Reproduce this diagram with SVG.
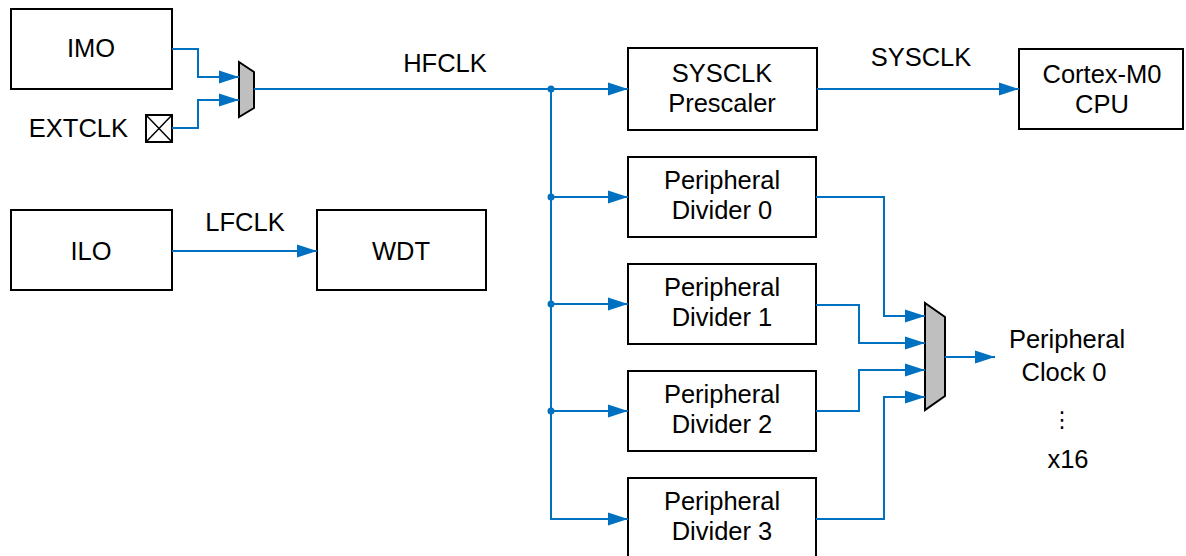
<svg xmlns="http://www.w3.org/2000/svg" width="1186" height="556" viewBox="0 0 1186 556">
<style>
.box{fill:#fff;stroke:#000;stroke-width:2}
.mux{fill:#BFBFBF;stroke:#000;stroke-width:2;stroke-linejoin:miter}
.w{fill:none;stroke:#0070C0;stroke-width:2}
.a{marker-end:url(#arr)}
text{font-family:"Liberation Sans",Arial,Helvetica,sans-serif;font-size:25.5px;fill:#000;text-anchor:middle}
</style>
<defs>
<marker id="arr" markerUnits="userSpaceOnUse" markerWidth="21" markerHeight="14" refX="20" refY="7" orient="auto">
<path d="M0,0.5 L20,7 L0,13.5 z" fill="#0070C0"/>
</marker>
</defs>
<g id="IMO"><rect class="box" x="11" y="9" width="161" height="80"/><text x="91" y="57">IMO</text></g>
<g id="EXTCLK"><rect x="146" y="115" width="26" height="27" fill="#fff" stroke="#000" stroke-width="2"/><path d="M146,115 L172,142 M172,115 L146,142" stroke="#000" stroke-width="1.5"/><text x="128" y="137" style="text-anchor:end">EXTCLK</text></g>
<g id="mux1"><polygon class="mux" points="239,62 254,72 254,108 239,117"/></g>
<g id="ILO"><rect class="box" x="11" y="210" width="161" height="80"/><text x="91" y="260">ILO</text></g>
<g id="WDT"><rect class="box" x="317" y="210" width="169" height="80"/><text x="401" y="260">WDT</text></g>
<g id="prescaler"><rect class="box" x="628" y="48" width="189" height="82"/><text x="722" y="82">SYSCLK</text><text x="722" y="112">Prescaler</text></g>
<g id="cpu"><rect class="box" x="1019" y="49" width="164" height="80"/><text x="1102" y="83">Cortex-M0</text><text x="1102" y="113">CPU</text></g>
<g id="div0"><rect class="box" x="628" y="157" width="188" height="80"/><text x="722" y="189">Peripheral</text><text x="722" y="219">Divider 0</text></g>
<g id="div1"><rect class="box" x="628" y="264" width="188" height="80"/><text x="722" y="296">Peripheral</text><text x="722" y="326">Divider 1</text></g>
<g id="div2"><rect class="box" x="628" y="371" width="188" height="80"/><text x="722" y="403">Peripheral</text><text x="722" y="433">Divider 2</text></g>
<g id="div3"><rect class="box" x="628" y="478" width="188" height="82"/><text x="722" y="510">Peripheral</text><text x="722" y="540">Divider 3</text></g>
<g id="mux2"><polygon class="mux" points="925,303 945,317 945,396 925,410"/></g>
<g id="out"><text x="1067" y="348">Peripheral</text><text x="1064" y="381">Clock 0</text><text x="1062" y="427" style="font-family:'DejaVu Sans',sans-serif;font-size:22px">⋮</text><text x="1068" y="468">x16</text></g>
<g id="connectors">
<path class="w a" d="M172,49 H198 V77 H239"/>
<path class="w a" d="M172,128 H198 V100 H239"/>
<path class="w a" d="M254,89 H628"/>
<path class="w a" d="M551,89 V519 H628"/>
<path class="w a" d="M551,197 H628"/>
<path class="w a" d="M551,304 H628"/>
<path class="w a" d="M551,411 H628"/>
<path class="w a" d="M817,89 H1019"/>
<path class="w a" d="M172,251 H317"/>
<path class="w a" d="M816,197 H884 V316 H925"/>
<path class="w a" d="M816,305 H859 V343 H925"/>
<path class="w a" d="M816,411 H859 V370 H925"/>
<path class="w a" d="M816,519 H884 V397 H925"/>
<path class="w a" d="M945,357 H995"/>
<g fill="#0070C0"><circle cx="551" cy="89" r="3.5"/><circle cx="551" cy="197" r="3.5"/><circle cx="551" cy="304" r="3.5"/><circle cx="551" cy="411" r="3.5"/></g>
<text x="445" y="72">HFCLK</text>
<text x="245" y="231">LFCLK</text>
<text x="921" y="66">SYSCLK</text>
</g>
</svg>
